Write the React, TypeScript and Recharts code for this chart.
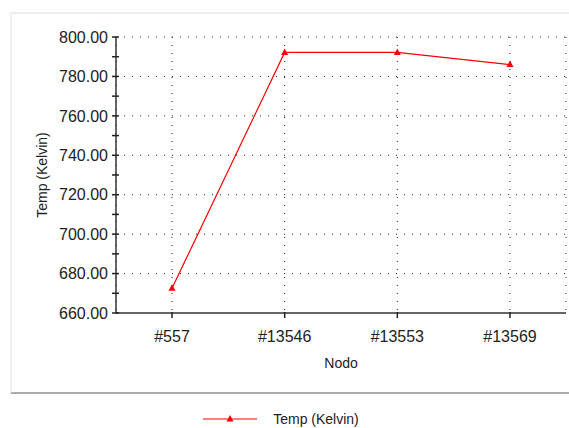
import { LineChart, Line, XAxis, YAxis, CartesianGrid, ReferenceLine, Legend } from 'recharts';

const nodes = ['#557', '#13546', '#13553', '#13569'];
const temps = [672.5, 792.2, 792.2, 786];
const yTicks = [660, 670, 680, 690, 700, 710, 720, 730, 740, 750, 760, 770, 780, 790, 800];
const gridValues = [680, 700, 720, 740, 760, 780, 800];

const data = nodes.map((n, i) => ({ nodo: n, temp: temps[i] }));

const FONT = '"Liberation Sans", Arial, sans-serif';

const YTick = (props: any) => {
    const { x, y, payload } = props;
    const v = payload.value;
    return (
        <g>
            <line x1={x - 4} y1={y} x2={x + 3} y2={y} stroke="#222" strokeWidth={1.5} />
            {v % 20 === 0 && (
                <text x={x - 8} y={y} dy="0.36em" textAnchor="end" fontSize={16} fill="#222" fontFamily={FONT}>
                    {v.toFixed(2)}
                </text>
            )}
        </g>
    );
};

const XTick = (props: any) => {
    const { x, y, payload } = props;
    return (
        <g>
            <line x1={x} y1={y - 3} x2={x} y2={y + 3} stroke="#222" strokeWidth={1.5} />
            <text x={x} y={y + 21} dy="0.36em" textAnchor="middle" fontSize={16} fill="#222" fontFamily={FONT}>
                {payload.value}
            </text>
        </g>
    );
};

const Triangle = (props: any) => {
    const { cx, cy } = props;
    if (cx == null || cy == null) return null;
    return <path d={`M${cx},${cy - 4} L${cx + 3.5},${cy + 2.5} L${cx - 3.5},${cy + 2.5} Z`} fill="#ff0000" />;
};

const LegendContent = () => (
    <div style={{ display: 'flex', justifyContent: 'center', alignItems: 'center', height: 18, fontFamily: FONT, fontSize: 14, color: '#222' }}>
        <svg width={54} height={10} style={{ marginRight: 16, marginLeft: -60 }}>
            <line x1={0} y1={5} x2={54} y2={5} stroke="#ff0000" strokeWidth={1.2} />
            <path d="M27,1 L30.5,7.5 L23.5,7.5 Z" fill="#ff0000" />
        </svg>
        <span>Temp (Kelvin)</span>
    </div>
);

export default function App() {
    return (
        <div style={{ position: 'relative', width: 569, height: 428, background: '#fff' }}>
            <style>{'body{margin:0}'}</style>
            <div
                style={{
                    position: 'absolute',
                    left: 10,
                    top: 12,
                    width: 557,
                    height: 378,
                    borderLeft: '2px solid #efefef',
                    borderTop: '2px solid #efefef',
                    borderRight: '1px solid #f3f3f3',
                    borderBottom: '2px solid #ababab',
                }}
            />
            <div style={{ position: 'absolute', left: 0, top: 0 }}>
                <LineChart width={569} height={428} data={data} margin={{ top: 37, right: 3, bottom: 0, left: 56 }}>
                    <CartesianGrid horizontal={false} stroke="#222" strokeDasharray="1 7" />
                    {gridValues.map((v) => (
                        <ReferenceLine key={v} y={v} stroke="#222" strokeDasharray="1 7" ifOverflow="extendDomain" />
                    ))}
                    <XAxis
                        dataKey="nodo"
                        padding={{ left: 56, right: 56 }}
                        height={93}
                        tick={<XTick />}
                        tickLine={false}
                        tickSize={0}
                        axisLine={{ stroke: '#333', strokeWidth: 1.5 }}
                        interval={0}
                        label={{ value: 'Nodo', position: 'insideTop', offset: 45, fontSize: 14, fill: '#222', fontFamily: FONT }}
                    />
                    <YAxis
                        domain={[660, 800]}
                        ticks={yTicks}
                        interval={0}
                        width={60}
                        tick={<YTick />}
                        tickLine={false}
                        tickSize={0}
                        tickMargin={0}
                        axisLine={{ stroke: '#333', strokeWidth: 1.5 }}
                        label={{ value: 'Temp (Kelvin)', angle: -90, position: 'insideLeft', offset: -14, fontSize: 14, fill: '#222', fontFamily: FONT, style: { textAnchor: 'middle' } }}
                    />
                    <Line
                        dataKey="temp"
                        type="linear"
                        stroke="#ff0000"
                        strokeWidth={1.2}
                        dot={<Triangle />}
                        activeDot={false}
                        isAnimationActive={false}
                    />
                    <Legend verticalAlign="bottom" height={22} wrapperStyle={{ bottom: -4 }} content={<LegendContent />} />
                </LineChart>
            </div>
        </div>
    );
}
